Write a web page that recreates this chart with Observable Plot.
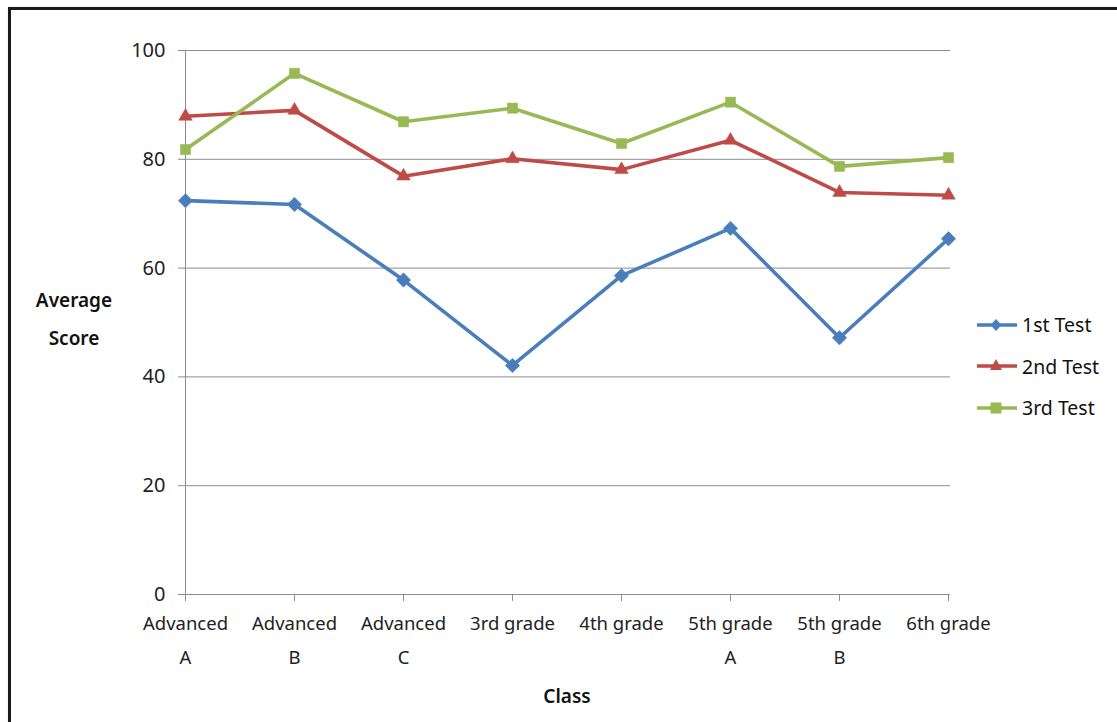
<!DOCTYPE html>
<html>
<head>
<meta charset="utf-8">
<script src="https://cdn.jsdelivr.net/npm/d3@7"></script>
<script src="https://cdn.jsdelivr.net/npm/@observablehq/plot@0.6"></script>
<style>
  html, body { margin: 0; padding: 0; background: #fff; overflow: hidden; }
  #wrap { position: relative; width: 1117px; height: 722px; font-family: "Noto Sans", sans-serif; }
  #frame { position: absolute; left: 8px; top: 7px; width: 1120px; height: 730px; border: 3px solid #1a1a1a; box-shadow: 1px 1px 2px #777; box-sizing: border-box; pointer-events: none; }
  #chart { position: absolute; left: 0; top: 0; }
  .ytitle { position: absolute; left: 20px; top: 281px; width: 108px; text-align: center; font-size: 19px; font-weight: 600; line-height: 38px; color: #111; }
  .xtitle { position: absolute; left: 517px; top: 683px; width: 100px; text-align: center; font-size: 19px; font-weight: 600; color: #111; }
  #legend { position: absolute; left: 976px; top: 304px; }
  .li { display: flex; align-items: center; height: 41.5px; font-size: 19.5px; color: #111; }
  .li svg { margin-right: 4px; }
</style>
</head>
<body>
<div id="wrap">
  <div id="chart"></div>
  <div class="ytitle">Average<br>Score</div>
  <div class="xtitle">Class</div>
  <div id="legend"></div>
  <div id="frame"></div>
</div>
<script>
const categories = ["Advanced A", "Advanced B", "Advanced C", "3rd grade", "4th grade", "5th grade A", "5th grade B", "6th grade"];
const tickLabels = ["Advanced\nA", "Advanced\nB", "Advanced\nC", "3rd grade", "4th grade", "5th grade\nA", "5th grade\nB", "6th grade"];
const seriesNames = ["1st Test", "2nd Test", "3rd Test"];
const test1 = [72.4, 71.7, 57.8, 42.1, 58.6, 67.3, 47.2, 65.4];
const test2 = [87.9, 89.0, 76.9, 80.1, 78.1, 83.5, 73.9, 73.4];
const test3 = [81.8, 95.8, 86.9, 89.4, 82.9, 90.5, 78.7, 80.3];
const yTicks = [0, 20, 40, 60, 80, 100];
const colors = ["#4A7EBB", "#BE4B48", "#98B954"];
const symbols = ["diamond2", "triangle2", "square2"];

const allSeries = [test1, test2, test3];
const data = allSeries.flatMap((vals, s) => vals.map((v, i) => ({cat: categories[i], value: v, series: seriesNames[s]})));
const labelOf = Object.fromEntries(categories.map((c, i) => [c, tickLabels[i]]));

const chart = Plot.plot({
  width: 1117,
  height: 722,
  marginLeft: 185,
  marginRight: 169,
  marginTop: 50,
  marginBottom: 128,
  style: {fontFamily: "'Noto Sans', sans-serif", background: "transparent"},
  x: {type: "point", domain: categories, padding: 0},
  y: {domain: [0, 100]},
  color: {domain: seriesNames, range: colors},
  symbol: {domain: seriesNames, range: symbols},
  marks: [
    Plot.ruleY(yTicks, {stroke: "#8c8c8c", strokeWidth: 1, insetLeft: -7, insetRight: -2}),
    Plot.ruleX([categories[0]], {y1: 0, y2: 100, stroke: "#8c8c8c", strokeWidth: 1}),
    Plot.axisY({ticks: yTicks, tickSize: 0, tickPadding: 20, fontSize: 20, fill: "#222", label: null}),
    Plot.axisX({tickSize: 7, tickPadding: 4, stroke: "#8c8c8c", fontSize: 18.5, fill: "#222", lineHeight: 1.85, tickFormat: d => labelOf[d], label: null}),
    Plot.line(data, {x: "cat", y: "value", z: "series", stroke: "series", strokeWidth: 3.6}),
    Plot.dot(data, {x: "cat", y: "value", symbol: "series", fill: "series", stroke: "series", strokeWidth: 0.5, r: 6.5})
  ]
});
document.getElementById("chart").appendChild(chart);

// legend
const leg = document.getElementById("legend");
const shapes = [
  c => `<path d="M20 4 L25.5 10 L20 16 L14.5 10 Z" fill="${c}"/>`,
  c => `<path d="M20 3 L26 14 L14 14 Z" fill="${c}"/>`,
  c => `<rect x="14.5" y="4.5" width="11" height="11" fill="${c}"/>`
];
seriesNames.forEach((name, i) => {
  const row = document.createElement("div");
  row.className = "li";
  row.innerHTML = `<svg width="42" height="20"><line x1="1" x2="41" y1="10" y2="10" stroke="${colors[i]}" stroke-width="3.6"/>${shapes[i](colors[i])}</svg><span>${name}</span>`;
  leg.appendChild(row);
});
</script>
</body>
</html>
